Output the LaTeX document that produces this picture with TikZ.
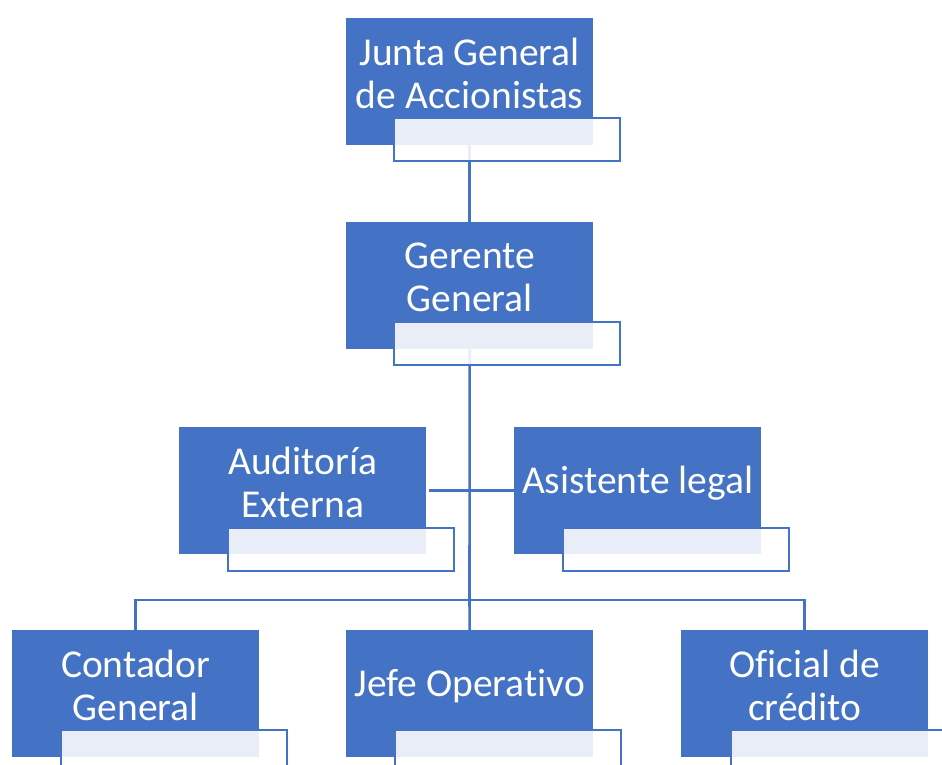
\documentclass[tikz,border=0pt]{standalone}
\usepackage{fontspec}
\setmainfont{Carlito}[RawFeature=-liga]
\definecolor{orgblue}{HTML}{4472C4}
\begin{document}
\begin{tikzpicture}[x=1pt,y=-1pt,
  chief/.style={fill=orgblue, draw=none, minimum width=247pt, minimum height=127pt,
                inner sep=0pt, anchor=north west},
  tagbox/.style={fill=white, fill opacity=0.88, draw=orgblue, line width=2pt,
                 minimum width=226pt, minimum height=43pt, inner sep=0pt, anchor=north west},
  caption/.style={text=white, align=center, inner sep=0pt,
                  font=\fontsize{39.5}{43}\selectfont},
  link/.style={draw=orgblue, line width=2.6pt}]
\useasboundingbox (0,0) rectangle (942,765);
\clip (0,0) rectangle (942,765);

% blue position boxes
\node[chief] (junta)     at (346,18)  {};
\node[chief] (gerente)   at (346,222) {};
\node[chief] (auditoria) at (179,427) {};
\node[chief] (asistente) at (514,427) {};
\node[chief] (contador)  at (12,630)  {};
\node[chief] (jefe)      at (346,630) {};
\node[chief] (oficial)   at (681,630) {};

% branch point
\coordinate (hub) at (469.5,600);

% connectors
\draw[link] (junta.south) -- (gerente.north);
\draw[link] (gerente.south) -- (hub);
\draw[link] ([xshift=3pt]auditoria.east) -- (asistente.west);
\draw[link] (contador.north) |- (hub) -| (oficial.north);
\draw[link] (hub) -- (jefe.north);

% redraw boxes over the connector ends
\foreach \b in {junta,gerente,auditoria,asistente,contador,jefe,oficial}
  \fill[orgblue] (\b.north west) rectangle (\b.south east);

% name tags
\node[tagbox] (juntaTag)     at ([xshift=47pt,yshift=28pt]junta.south west) {};
\node[tagbox] (gerenteTag)   at ([xshift=47pt,yshift=28pt]gerente.south west) {};
\node[tagbox] (auditoriaTag) at ([xshift=48pt,yshift=27pt]auditoria.south west) {};
\node[tagbox] (asistenteTag) at ([xshift=48pt,yshift=27pt]asistente.south west) {};
\node[tagbox] (contadorTag)  at ([xshift=48pt,yshift=28pt]contador.south west) {};
\node[tagbox] (jefeTag)      at ([xshift=48pt,yshift=28pt]jefe.south west) {};
\node[tagbox] (oficialTag)   at ([xshift=49pt,yshift=28pt]oficial.south west) {};

% titles
\node[caption] (juntaText)     at ([yshift=8pt]junta.center)     {Junta General\\de Accionistas};
\node[caption] (gerenteText)   at ([yshift=8pt]gerente.center)   {Gerente\\General};
\node[caption] (auditoriaText) at ([yshift=8pt]auditoria.center) {Auditoría\\Externa};
\node[caption] (asistenteText) at ([yshift=8pt]asistente.center) {Asistente legal};
\node[caption] (contadorText)  at ([yshift=8pt]contador.center)  {Contador\\General};
\node[caption] (jefeText)      at ([yshift=8pt]jefe.center)      {Jefe Operativo};
\node[caption] (oficialText)   at ([yshift=8pt]oficial.center)   {Oficial de\\crédito};
\end{tikzpicture}
\end{document}
